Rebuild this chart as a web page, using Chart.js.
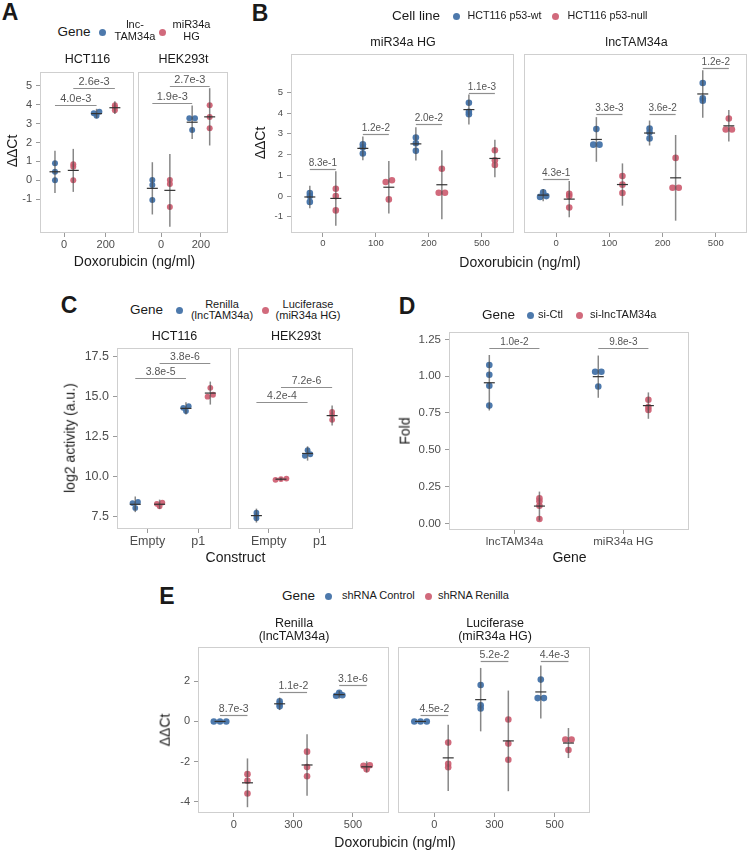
<!DOCTYPE html>
<html>
<head>
<meta charset="utf-8">
<script src="https://cdn.jsdelivr.net/npm/chart.js@4.4.0/dist/chart.umd.min.js"></script>
<style>
  body { margin: 0; background: #fff; }
  #fig { position: relative; width: 751px; height: 850px; font-family: 'Liberation Sans', Arial, Helvetica, sans-serif; color: #1a1a1a; overflow: hidden; }
  #fig canvas { position: absolute; }
  .t { position: absolute; white-space: nowrap; line-height: 1.05; text-align: center; }
  .dot { position: absolute; width: 7px; height: 7px; border-radius: 50%; margin: -3.5px 0 0 -3.5px; }
</style>
</head>
<body>
<div id="fig"></div>
<script>
// ---- data ----
// A: dCt per dose, blue = lncTAM34a, red = miR34a HG
const A_dose = ['0', '200'];
const A_hct_lnc = [[0.0, 0.45, 0.9], [3.42, 3.55, 3.62]];
const A_hct_mir = [[0.0, 0.72, 0.85], [3.7, 3.85, 3.97]];
const A_hek_lnc = [[0.02, -0.25, -1.05], [3.28, 3.28, 2.66]];
const A_hek_mir = [[0.02, -0.2, -1.42], [3.97, 3.35, 2.75]];
const A_hct_brk = [[0, 0, 1, 0, 3.98, '4.0e-3'], [0, 1, 1, 1, 4.87, '2.6e-3']];
const A_hek_brk = [[0, 0, 1, 0, 4.07, '1.9e-3'], [0, 1, 1, 1, 4.99, '2.7e-3']];
const A_yTicks = [-1, 0, 1, 2, 3, 4, 5];

// B: blue = p53-wt, red = p53-null
const B_dose = ['0', '100', '200', '500'];
const B_mir_wt = [[0.15, 0.0, -0.28], [2.5, 2.35, 2.05], [2.82, 2.55, 2.18], [4.5, 4.06, 3.95]];
const B_mir_null = [[0.35, 0.0, -0.69], [0.76, 0.68, -0.16], [1.32, 0.16, 0.16], [2.21, 1.73, 1.5]];
const B_lnc_wt = [[0.18, 0.0, -0.04], [3.23, 2.48, 2.48], [3.26, 3.08, 2.78], [5.45, 4.72, 4.6]];
const B_lnc_null = [[0.11, 0.0, -0.55], [0.97, 0.55, 0.15], [1.84, 0.4, 0.4], [3.74, 3.21, 3.21]];
const B_mir_brk = [[0, 0, 0, 1, 1.32, '8.3e-1'], [1, 0, 1, 1, 2.98, '1.2e-2'], [2, 0, 2, 1, 3.47, '2.0e-2'], [3, 0, 3, 1, 4.98, '1.1e-3']];
const B_lnc_brk = [[0, 0, 0, 1, 0.84, '4.3e-1'], [1, 0, 1, 1, 3.94, '3.3e-3'], [2, 0, 2, 1, 3.94, '3.6e-2'], [3, 0, 3, 1, 6.19, '1.2e-2']];
const B_yTicks = [-1, 0, 1, 2, 3, 4, 5];

// C: log2 activity, blue = Renilla, red = Luciferase
const C_construct = ['Empty', 'p1'];
const C_hct_ren = [[8.42, 8.35, 8.05], [14.4, 14.3, 14.1]];
const C_hct_luc = [[8.38, 8.3, 8.15], [15.55, 15.12, 15.0]];
const C_hek_ren = [[7.75, 7.55, 7.4], [11.65, 11.4, 11.3]];
const C_hek_luc = [[9.88, 9.85, 9.8], [14.05, 13.85, 13.55]];
const C_hct_brk = [[0, 0, 1, 0, 16.15, '3.8e-5'], [0, 1, 1, 1, 17.12, '3.8e-6']];
const C_hek_brk = [[0, 0, 1, 0, 14.65, '4.2e-4'], [0, 1, 1, 1, 15.58, '7.2e-6']];
const C_yTicks = [7.5, 10, 12.5, 15, 17.5];

// D: fold, blue = si-Ctl, red = si-lncTAM34a
const D_gene = ['lncTAM34a', 'miR34a HG'];
const D_siCtl = [[1.076, 1.01, 0.935, 0.80], [1.03, 1.03, 0.93]];
const D_siLnc = [[0.17, 0.15, 0.12, 0.03], [0.84, 0.79, 0.77]];
const D_brk = [[0, 0, 0, 1, 1.193, '1.0e-2'], [1, 0, 1, 1, 1.193, '9.8e-3']];
const D_yTicks = [0, 0.25, 0.5, 0.75, 1.0, 1.25];

// E: blue = shRNA Control, red = shRNA Renilla
const E_dose = ['0', '300', '500'];
const E_ren_ctl = [[0, 0, 0], [1.0, 0.88, 0.75], [1.42, 1.3, 1.28]];
const E_ren_sh = [[-2.62, -2.95, -3.58], [-1.5, -2.27, -2.72], [-2.18, -2.2, -2.38]];
const E_luc_ctl = [[0, 0, 0], [1.81, 0.8, 0.64], [2.08, 1.16, 1.16]];
const E_luc_sh = [[-1.05, -2.1, -2.28], [0.1, -1.1, -1.9], [-0.9, -0.9, -1.42]];
const E_ren_brk = [[0, 0, 0, 1, 0.34, '8.7e-3'], [1, 0, 1, 1, 1.46, '1.1e-2'], [2, 0, 2, 1, 1.81, '3.1e-6']];
const E_luc_brk = [[0, 0, 0, 1, 0.34, '4.5e-2'], [1, 0, 1, 1, 2.98, '5.2e-2'], [2, 0, 2, 1, 3.02, '4.4e-3']];
const E_yTicks = [-4, -2, 0, 2];

// ---- styling ----
Chart.defaults.font.family = "'Liberation Sans', Arial, Helvetica, sans-serif";
const BLUE = 'rgba(64,111,166,0.93)';
const RED = 'rgba(204,90,110,0.9)';
const T95 = {2: 12.706, 3: 4.303, 4: 3.182, 5: 2.776};
const fig = document.getElementById('fig');

const facets = [
  {rect: [40, 72, 135, 233], xr: [-0.58, 1.68], yr: [-2.79, 5.73], cats: A_dose, blue: A_hct_lnc, red: A_hct_mir, brk: A_hct_brk, ticks: A_yTicks, dec: 0, fs: 11, bfs: 11, r: 3, dodge: 0.22, showY: true},
  {rect: [138, 72, 229, 233], xr: [-0.58, 1.68], yr: [-2.79, 5.73], cats: A_dose, blue: A_hek_lnc, red: A_hek_mir, brk: A_hek_brk, ticks: A_yTicks, dec: 0, fs: 11, bfs: 11, r: 3, dodge: 0.22, showY: false},
  {rect: [291, 54, 515, 233], xr: [-0.6, 3.6], yr: [-1.78, 6.85], cats: B_dose, blue: B_mir_wt, red: B_mir_null, brk: B_mir_brk, ticks: B_yTicks, dec: 0, fs: 9.5, bfs: 10, r: 3.3, dodge: 0.245, showY: true},
  {rect: [524, 54, 749, 233], xr: [-0.6, 3.6], yr: [-1.78, 6.85], cats: B_dose, blue: B_lnc_wt, red: B_lnc_null, brk: B_lnc_brk, ticks: B_yTicks, dec: 0, fs: 9.5, bfs: 10, r: 3.3, dodge: 0.245, showY: false},
  {rect: [117, 348, 232, 529], xr: [-0.6, 1.65], yr: [6.73, 18.04], cats: C_construct, blue: C_hct_ren, red: C_hct_luc, brk: C_hct_brk, ticks: C_yTicks, dec: 1, fs: 12.5, bfs: 10.5, r: 2.9, dodge: 0.24, showY: true},
  {rect: [238, 348, 354, 529], xr: [-0.6, 1.65], yr: [6.73, 18.04], cats: C_construct, blue: C_hek_ren, red: C_hek_luc, brk: C_hek_brk, ticks: C_yTicks, dec: 1, fs: 12.5, bfs: 10.5, r: 2.9, dodge: 0.24, showY: false},
  {rect: [449, 332, 690, 530], xr: [-0.6, 1.6], yr: [-0.045, 1.30], cats: D_gene, blue: D_siCtl, red: D_siLnc, brk: D_brk, ticks: D_yTicks, dec: 2, fs: 11.5, bfs: 10, r: 3.3, dodge: 0.23, showY: true},
  {rect: [198, 647, 390, 813], xr: [-0.6, 2.6], yr: [-4.55, 3.7], cats: E_dose, blue: E_ren_ctl, red: E_ren_sh, brk: E_ren_brk, ticks: E_yTicks, dec: 0, fs: 11, bfs: 10.5, r: 3.3, dodge: 0.23, showY: true},
  {rect: [398, 647, 592, 813], xr: [-0.6, 2.6], yr: [-4.55, 3.7], cats: E_dose, blue: E_luc_ctl, red: E_luc_sh, brk: E_luc_brk, ticks: E_yTicks, dec: 0, fs: 11, bfs: 10.5, r: 3.3, dodge: 0.23, showY: false}
];

function mean(a) { return a.reduce((s, v) => s + v, 0) / a.length; }
function ci95(a) {
  const m = mean(a);
  const sd = Math.sqrt(a.reduce((s, v) => s + (v - m) * (v - m), 0) / (a.length - 1));
  return T95[a.length] * sd / Math.sqrt(a.length);
}

// spread points that sit on top of each other sideways, like a beeswarm
function swarm(vals, f) {
  const [l, t, r, b] = f.rect;
  const pxX = (r - l) / (f.xr[1] - f.xr[0]);
  const pxY = (b - t) / (f.yr[1] - f.yr[0]);
  const s = vals.slice().sort((p, q) => p - q);
  const out = [];
  let cl = [s[0]];
  const flush = () => {
    const n = cl.length;
    cl.forEach((v, k) => out.push({y: v, dx: (k - (n - 1) / 2) * f.r * 1.9 / pxX}));
  };
  for (let i = 1; i < s.length; i++) {
    if ((s[i] - s[i - 1]) * pxY < 2.2) cl.push(s[i]);
    else { flush(); cl = [s[i]]; }
  }
  flush();
  return out;
}

function overlay(f) {
  const off = g => (g === 0 ? -f.dodge : f.dodge);
  return {
    id: 'overlay',
    beforeDatasetsDraw(chart) {
      const a = chart.chartArea, ctx = chart.ctx;
      ctx.save();
      ctx.strokeStyle = '#cfcfcf';
      ctx.lineWidth = 1;
      ctx.strokeRect(Math.round(a.left) + 0.5, Math.round(a.top) + 0.5, Math.round(a.right - a.left) - 1, Math.round(a.bottom - a.top) - 1);
      ctx.restore();
    },
    afterDatasetsDraw(chart) {
      const ctx = chart.ctx, xs = chart.scales.x, ys = chart.scales.y;
      ctx.save();
      [f.blue, f.red].forEach((grp, g) => {
        grp.forEach((vals, c) => {
          const m = mean(vals), e = ci95(vals);
          const px = xs.getPixelForValue(c + off(g));
          ctx.strokeStyle = 'rgba(70,70,70,0.65)';
          ctx.lineWidth = 1.5;
          ctx.beginPath();
          ctx.moveTo(px, ys.getPixelForValue(m - e));
          ctx.lineTo(px, ys.getPixelForValue(m + e));
          ctx.stroke();
          ctx.strokeStyle = '#333';
          ctx.lineWidth = 1.2;
          ctx.beginPath();
          ctx.moveTo(px - 5.5, ys.getPixelForValue(m));
          ctx.lineTo(px + 5.5, ys.getPixelForValue(m));
          ctx.stroke();
        });
      });
      // p-value brackets
      ctx.font = f.bfs + "px 'Liberation Sans', Arial, sans-serif";
      ctx.textAlign = 'center';
      ctx.textBaseline = 'bottom';
      f.brk.forEach(([c1, g1, c2, g2, y, lab]) => {
        const x1 = xs.getPixelForValue(c1 + off(g1));
        const x2 = xs.getPixelForValue(c2 + off(g2));
        const py = Math.round(ys.getPixelForValue(y)) + 0.5;
        ctx.strokeStyle = '#8f8f8f';
        ctx.lineWidth = 1.2;
        ctx.beginPath();
        ctx.moveTo(x1, py);
        ctx.lineTo(x2, py);
        ctx.stroke();
        ctx.fillStyle = '#555';
        ctx.fillText(lab, (x1 + x2) / 2, py - 1);
      });
      ctx.restore();
    }
  };
}

function drawFacet(f) {
  const [l, t, r, b] = f.rect;
  const padL = f.showY ? 48 : 3, padT = 12, padR = 2, padB = 24;
  const cv = document.createElement('canvas');
  cv.width = r - l + padL + padR;
  cv.height = b - t + padT + padB;
  cv.style.left = (l - padL) + 'px';
  cv.style.top = (t - padT) + 'px';
  fig.appendChild(cv);

  const datasets = [f.blue, f.red].map((grp, g) => {
    const data = [];
    grp.forEach((vals, c) => {
      swarm(vals, f).forEach(p => data.push({x: c + (g === 0 ? -f.dodge : f.dodge) + p.dx, y: p.y}));
    });
    return {data: data, backgroundColor: g === 0 ? BLUE : RED, borderWidth: 0, pointRadius: f.r, pointHoverRadius: f.r};
  });

  new Chart(cv.getContext('2d'), {
    type: 'scatter',
    data: {datasets: datasets},
    options: {
      responsive: false,
      animation: false,
      devicePixelRatio: 1,
      events: [],
      layout: {padding: {left: 0, top: padT, right: padR, bottom: 0}},
      plugins: {legend: {display: false}, tooltip: {enabled: false}},
      scales: {
        x: {
          type: 'linear', min: f.xr[0], max: f.xr[1],
          afterFit: s => { s.height = padB; },
          afterBuildTicks: s => { s.ticks = f.cats.map((c, i) => ({value: i})); },
          ticks: {callback: (v, i) => f.cats[i], autoSkip: false, maxRotation: 0, padding: 1, color: '#4d4d4d', font: {size: f.fs}},
          grid: {drawOnChartArea: false, drawTicks: true, tickLength: 4, color: '#9a9a9a'},
          border: {display: false}
        },
        y: {
          type: 'linear', min: f.yr[0], max: f.yr[1],
          afterFit: s => { s.width = padL; },
          afterBuildTicks: s => { s.ticks = f.ticks.map(v => ({value: v})); },
          ticks: {display: f.showY, callback: v => Number(v).toFixed(f.dec), padding: 4, color: '#4d4d4d', font: {size: f.fs}},
          grid: {display: f.showY, drawOnChartArea: false, drawTicks: true, tickLength: 4, color: '#9a9a9a'},
          border: {display: false}
        }
      }
    },
    plugins: [overlay(f)]
  });
}

facets.forEach(drawFacet);

// ---- text layer ----
function txt(html, x, y, size, o) {
  o = o || {};
  const d = document.createElement('div');
  d.className = 't';
  d.innerHTML = html;
  d.style.left = x + 'px';
  d.style.top = y + 'px';
  d.style.fontSize = size + 'px';
  if (o.bold) d.style.fontWeight = 'bold';
  if (o.lh) d.style.lineHeight = o.lh;
  d.style.transform = 'translate(' + (o.left ? '0' : '-50%') + ',-50%)' + (o.rot ? ' rotate(-90deg)' : '');
  fig.appendChild(d);
}
function dot(x, y, color) {
  const d = document.createElement('div');
  d.className = 'dot';
  d.style.left = x + 'px';
  d.style.top = y + 'px';
  d.style.background = color;
  fig.appendChild(d);
}
function mid(i) { return (facets[i].rect[0] + facets[i].rect[2]) / 2; }

// panel letters
txt('A', 10, 12, 23, {bold: true});
txt('B', 260, 13, 23, {bold: true});
txt('C', 69, 305, 23, {bold: true});
txt('D', 407, 306, 23, {bold: true});
txt('E', 167, 596, 23, {bold: true});

// legends
txt('Gene', 57.5, 32, 13.5, {left: true});
dot(102, 32, BLUE); txt('lnc-<br>TAM34a', 135, 30.5, 11, {lh: 1.15});
dot(162, 32, RED); txt('miR34a<br>HG', 191.5, 30.5, 11, {lh: 1.15});

txt('Cell line', 392, 16, 13.5, {left: true});
dot(456, 16, BLUE); txt('HCT116 p53-wt', 467.5, 16, 10.7, {left: true});
dot(555, 16, RED); txt('HCT116 p53-null', 567.5, 16, 10.7, {left: true});

txt('Gene', 130, 310, 13.5, {left: true});
dot(179, 310, BLUE); txt('Renilla<br>(lncTAM34a)', 222, 309.5, 11, {lh: 1.0});
dot(265, 310, RED); txt('Luciferase<br>(miR34a HG)', 308, 309.5, 11, {lh: 1.0});

txt('Gene', 482, 315, 13.5, {left: true});
dot(530, 315, BLUE); txt('si-Ctl', 538, 315, 11, {left: true});
dot(579, 315, RED); txt('si-lncTAM34a', 590, 315, 11, {left: true});

txt('Gene', 282, 596, 13.5, {left: true});
dot(328, 596, BLUE); txt('shRNA Control', 342, 596, 11, {left: true});
dot(428, 596, RED); txt('shRNA Renilla', 438, 596, 11, {left: true});

// strip titles
txt('HCT116', mid(0), 60, 12.5);
txt('HEK293t', mid(1), 60, 12.5);
txt('miR34a HG', mid(2), 43, 12.5);
txt('lncTAM34a', mid(3), 43, 12.5);
txt('HCT116', mid(4), 337, 12.5);
txt('HEK293t', mid(5), 337, 12.5);
txt('Renilla<br>(lncTAM34a)', mid(7), 629, 12.5, {lh: 1.0});
txt('Luciferase<br>(miR34a HG)', mid(8), 629, 12.5, {lh: 1.0});

// axis titles
txt('Doxorubicin (ng/ml)', 134.5, 261, 14);
txt('Doxorubicin (ng/ml)', 520, 262, 14);
txt('Construct', 235.5, 557, 14);
txt('Gene', 569.5, 557, 14);
txt('Doxorubicin (ng/ml)', 395, 842, 14);
txt('ΔΔCt', 12, 151, 14, {rot: true});
txt('ΔΔCt', 260, 143, 14, {rot: true});
txt('log2 activity (a.u.)', 70, 438, 14, {rot: true});
txt('Fold', 405, 431, 14, {rot: true});
txt('ΔΔCt', 165, 730, 14, {rot: true});
</script>
</body>
</html>
